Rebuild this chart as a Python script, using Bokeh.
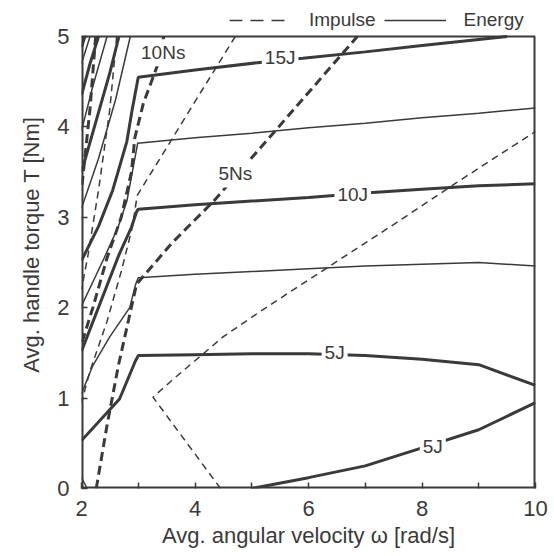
from bokeh.plotting import figure
from bokeh.models import Range1d, FixedTicker, Label, Legend, LegendItem
from bokeh.embed import file_html
from bokeh.resources import INLINE

# ---------------- data ----------------
# Energy contours (solid lines)
e2_5_x = [2.0, 2.1]
e2_5_y = [0.12, 0.0]
e5a_x = [2.0, 2.67, 2.95, 3.0, 4.0, 5.0, 6.0, 7.0, 8.0, 9.0, 10.0]
e5a_y = [0.53, 0.99, 1.41, 1.47, 1.48, 1.49, 1.49, 1.47, 1.43, 1.37, 1.14]
e5b_x = [5.0, 6.0, 7.0, 8.0, 9.0, 10.0]
e5b_y = [0.0, 0.12, 0.25, 0.45, 0.65, 0.95]
e7_5_x = [2.0, 2.2, 2.5, 2.85, 2.95, 3.0, 4.0, 5.0, 6.0, 7.0, 8.0, 9.0, 10.0]
e7_5_y = [1.05, 1.36, 1.68, 2.0, 2.25, 2.33, 2.37, 2.40, 2.43, 2.46, 2.48, 2.50, 2.46]
e10_x = [2.0, 2.65, 2.88, 2.97, 3.0, 4.0, 5.0, 6.0, 7.0, 8.0, 9.0, 10.0]
e10_y = [1.52, 2.57, 2.89, 3.06, 3.09, 3.14, 3.18, 3.22, 3.27, 3.31, 3.35, 3.37]
e12_5_x = [2.0, 2.4, 2.65, 2.8, 2.91, 2.99, 4.0, 5.0, 6.0, 7.0, 8.0, 9.0, 10.0]
e12_5_y = [2.02, 2.55, 2.9, 3.18, 3.55, 3.82, 3.88, 3.93, 3.99, 4.04, 4.10, 4.15, 4.21]
e15_x = [2.0, 2.3, 2.55, 2.8, 2.89, 3.0, 4.0, 5.1, 5.9, 7.0, 8.0, 9.5]
e15_y = [2.52, 2.9, 3.3, 3.84, 4.18, 4.55, 4.63, 4.71, 4.76, 4.83, 4.9, 5.0]
e17_5_x = [2.0, 2.3, 2.6, 2.86]
e17_5_y = [3.1, 3.65, 4.3, 5.0]
e20_x = [2.0, 2.25, 2.5, 2.66]
e20_y = [3.5, 4.05, 4.6, 5.0]
e22_5_x = [2.0, 2.2, 2.45]
e22_5_y = [3.96, 4.45, 5.0]
e25_x = [2.0, 2.15, 2.3]
e25_y = [4.35, 4.7, 5.0]
e27_5_x = [2.0, 2.15]
e27_5_y = [4.7, 5.0]
e30_x = [2.0, 2.06]
e30_y = [4.88, 5.0]

# Impulse contours (dashed lines)
i2_5_x = [4.45, 3.26, 3.6, 4.5, 5.2, 6.3, 7.5, 8.6, 10.0]
i2_5_y = [0.0, 1.01, 1.2, 1.68, 1.98, 2.43, 2.92, 3.38, 3.95]
i5_x = [2.26, 2.45, 2.65, 2.97, 3.6, 4.33, 5.1, 6.0, 6.86]
i5_y = [0.0, 0.7, 1.36, 2.26, 2.72, 3.18, 3.73, 4.38, 5.0]
i7_5_x = [4.71, 4.0, 3.5, 2.98, 2.9, 2.7, 2.45, 2.15, 2.0]
i7_5_y = [5.0, 4.28, 3.77, 3.24, 2.9, 2.4, 1.85, 1.3, 0.95]
i10_x = [3.45, 3.35, 3.09, 2.94, 2.88, 2.7, 2.45, 2.2, 2.0]
i10_y = [5.0, 4.7, 4.26, 3.88, 3.5, 3.0, 2.55, 2.0, 1.6]
i12_5_x = [2.62, 2.5, 2.3, 2.12, 2.0]
i12_5_y = [5.0, 4.2, 3.3, 2.6, 2.2]
i15_x = [2.25, 2.15, 2.0]
i15_y = [5.0, 4.2, 3.3]

# in-plot labels
label_text = ["10Ns", "15J", "5Ns", "10J", "5J", "5J"]
label_x = [3.44, 5.5, 4.71, 6.78, 6.46, 8.19]
label_y = [4.82, 4.77, 3.48, 3.25, 1.50, 0.47]

legend_labels = ["Impulse", "Energy"]

x_min, x_max = 2, 10
y_min, y_max = 0, 5
x_ticks = [2, 3, 4, 5, 6, 7, 8, 9, 10]
y_ticks = [0, 1, 2, 3, 4, 5]

# ---------------- styling ----------------
INK = "#3a3a3a"
FONT = "Liberation Sans"
THICK = 3.0
THIN = 1.5
TOP_PAD = 36 / 90.4  # room above the axes box for the legend (in y units)

p = figure(width=554, height=556, output_backend="svg", toolbar_location=None,
           x_range=Range1d(x_min, x_max), y_range=Range1d(y_min, y_max + TOP_PAD),
           min_border_left=81, min_border_right=19, min_border_top=0, min_border_bottom=68)
p.background_fill_color = "white"
p.border_fill_color = "white"
p.xgrid.visible = False
p.ygrid.visible = False
p.outline_line_color = None

# axes box: top edge fully inside, the other edges sit on the frame border
p.line([x_min, x_max], [y_max, y_max], line_color=INK, line_width=2)
p.line([x_min, x_min], [y_min, y_max], line_color=INK, line_width=4)
p.line([x_max, x_max], [y_min, y_max], line_color=INK, line_width=4)
p.line([x_min, x_max], [y_min, y_min], line_color=INK, line_width=4)

energy = [(e2_5_x, e2_5_y, THIN), (e5a_x, e5a_y, THICK), (e5b_x, e5b_y, THICK),
          (e7_5_x, e7_5_y, THIN), (e10_x, e10_y, THICK), (e12_5_x, e12_5_y, THIN),
          (e15_x, e15_y, THICK), (e17_5_x, e17_5_y, THIN), (e20_x, e20_y, THICK),
          (e22_5_x, e22_5_y, THIN), (e25_x, e25_y, THICK), (e27_5_x, e27_5_y, THIN),
          (e30_x, e30_y, THICK)]
impulse = [(i2_5_x, i2_5_y, THIN), (i5_x, i5_y, THICK), (i7_5_x, i7_5_y, THIN),
           (i10_x, i10_y, THICK), (i12_5_x, i12_5_y, THIN), (i15_x, i15_y, THICK)]

for xs, ys, w in energy:
    p.line(xs, ys, line_color=INK, line_width=w)
for xs, ys, w in impulse:
    p.line(xs, ys, line_color=INK, line_width=w,
           line_dash="9 5" if w == THICK else "7 5")

for t, lx, ly in zip(label_text, label_x, label_y):
    p.add_layout(Label(x=lx, y=ly, text=t, text_align="center", text_baseline="middle",
                       text_font=FONT, text_font_size="19px", text_color=INK,
                       background_fill_color="white", padding=3))

# legend proxies (a single NaN point draws nothing in the plot)
nan = float("nan")
r_imp = p.line([nan], [nan], line_color=INK, line_width=1.6, line_dash="13 8")
r_en = p.line([nan], [nan], line_color=INK, line_width=1.6)
legend = Legend(items=[LegendItem(label=legend_labels[0], renderers=[r_imp]),
                       LegendItem(label=legend_labels[1], renderers=[r_en])],
                orientation="horizontal", location=(148, 457),
                glyph_width=62, glyph_height=20, label_standoff=18, spacing=8,
                padding=0, margin=0, border_line_alpha=0, background_fill_alpha=0,
                label_text_font=FONT, label_text_font_size="19px", label_text_color=INK)
p.add_layout(legend)

# axes
for ax in (p.xaxis, p.yaxis):
    ax.axis_line_color = None
    ax.major_tick_in = 6
    ax.major_tick_out = 0
    ax.minor_tick_line_color = None
    ax.major_tick_line_color = INK
    ax.major_tick_line_width = 1.5
    ax.major_label_text_font = FONT
    ax.major_label_text_font_size = "22px"
    ax.major_label_text_color = INK
    ax.axis_label_text_font = FONT
    ax.axis_label_text_font_size = "22px"
    ax.axis_label_text_font_style = "normal"
    ax.axis_label_text_color = INK

p.xaxis.ticker = FixedTicker(ticks=x_ticks)
p.xaxis.major_label_overrides = {3: "", 5: "", 7: "", 9: ""}
p.yaxis.ticker = FixedTicker(ticks=y_ticks)
p.xaxis.axis_label = "Avg. angular velocity ω [rad/s]"
p.yaxis.axis_label = "Avg. handle torque T [Nm]"
p.xaxis.major_label_standoff = 12
p.xaxis.axis_label_standoff = 4
p.yaxis.major_label_standoff = 12
p.yaxis.axis_label_standoff = 10

open("out.html", "w").write(file_html(p, INLINE))
